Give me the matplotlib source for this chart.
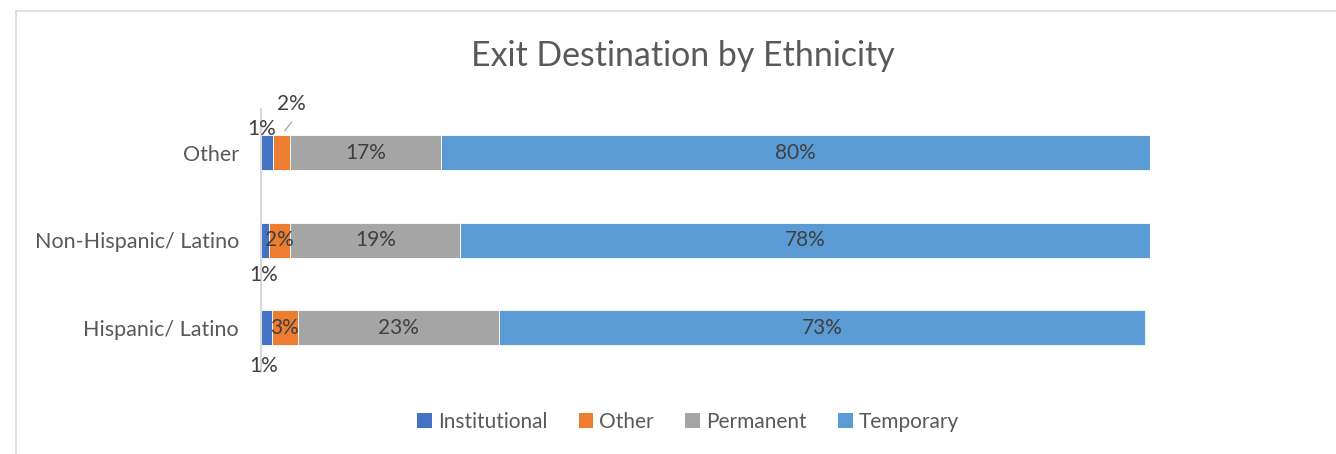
import matplotlib.pyplot as plt
import numpy as np
from matplotlib.lines import Line2D
from matplotlib.patches import Patch

plt.rcParams['font.family'] = ['Lato', 'DejaVu Sans']

# categories bottom to top
groups = ['Hispanic/ Latino', 'Non-Hispanic/ Latino', 'Other']
series = ['Institutional', 'Other', 'Permanent', 'Temporary']
colors = ['#4472C4', '#ED7D31', '#A5A5A5', '#5B9BD5']

institutional = [0.012, 0.009, 0.013]
other = [0.030, 0.024, 0.020]
permanent = [0.226, 0.191, 0.169]
temporary = [0.726, 0.776, 0.798]
label_text = [['1%', '3%', '23%', '73%'],
              ['1%', '2%', '19%', '78%'],
              ['1%', '2%', '17%', '80%']]

values = np.array([institutional, other, permanent, temporary])

fig = plt.figure(figsize=(13.36, 4.54), dpi=100)
W, H = 1336, 454

# outer chart frame (only left and top edges are visible in the crop)
fig.add_artist(Line2D([15.5 / W, 15.5 / W], [0, 1 - 10.5 / H], color='#d9d9d9', lw=1.2))
fig.add_artist(Line2D([15.5 / W, 1], [1 - 10.5 / H, 1 - 10.5 / H], color='#d9d9d9', lw=1.2))

ax = fig.add_axes([261 / W, 1 - 371.5 / H, 889 / W, 262.5 / H])
ypos = np.arange(len(groups))
left = np.zeros(len(groups))
for k, name in enumerate(series):
    ax.barh(ypos, values[k], left=left, height=0.4, color=colors[k], label=name,
            edgecolor='white', linewidth=0.6)
    left = left + values[k]

# data labels
txt_kw = dict(fontsize=15, color='#404040', ha='center', va='center')
# pixel offsets for labels Excel moved outside small segments
moved = {(2, 0): (-5, 24), (1, 0): (-1, -35), (0, 0): (-2.5, -38), (2, 1): (10, 49)}
left = np.zeros(len(groups))
for k in range(len(series)):
    for i in range(len(groups)):
        cx = left[i] + values[k][i] / 2
        lab = label_text[i][k]
        if (i, k) in moved:
            ax.annotate(lab, xy=(cx, ypos[i]), xytext=moved[(i, k)],
                        textcoords='offset pixels', **txt_kw)
        else:
            ax.text(cx, ypos[i], lab, **txt_kw)
        if (i, k) == (2, 1):
            # leader line
            ax.annotate('', xy=(cx, ypos[i] + 0.2), xytext=(10, 13), textcoords='offset pixels',
                        arrowprops=dict(arrowstyle='-', color='#a6a6a6', lw=1,
                                        shrinkA=0, shrinkB=4))
    left = left + values[k]

ax.set_xlim(0, 1)
ax.set_ylim(-0.5, 2.5)
ax.set_yticks(ypos)
ax.set_yticklabels(groups, fontsize=15.5, color='#595959')
ax.tick_params(axis='y', length=0, pad=16)
ax.set_xticks([])
for s in ['top', 'right', 'bottom']:
    ax.spines[s].set_visible(False)
ax.spines['left'].set_color('#d9d9d9')
ax.spines['left'].set_linewidth(1.5)

fig.text(683 / W, 1 - 56 / H, 'Exit Destination by Ethnicity', fontsize=24.4,
         color='#595959', ha='center', va='center')

handles = [Patch(facecolor=c, label=n) for c, n in zip(colors, series)]
fig.legend(handles=handles, loc='center', bbox_to_anchor=(688 / W, 1 - 422 / H), ncol=4,
           frameon=False, fontsize=15, handlelength=0.7, handleheight=0.7,
           handletextpad=0.3, columnspacing=1.5, labelcolor='#595959')

plt.savefig('out.png', dpi=100)
